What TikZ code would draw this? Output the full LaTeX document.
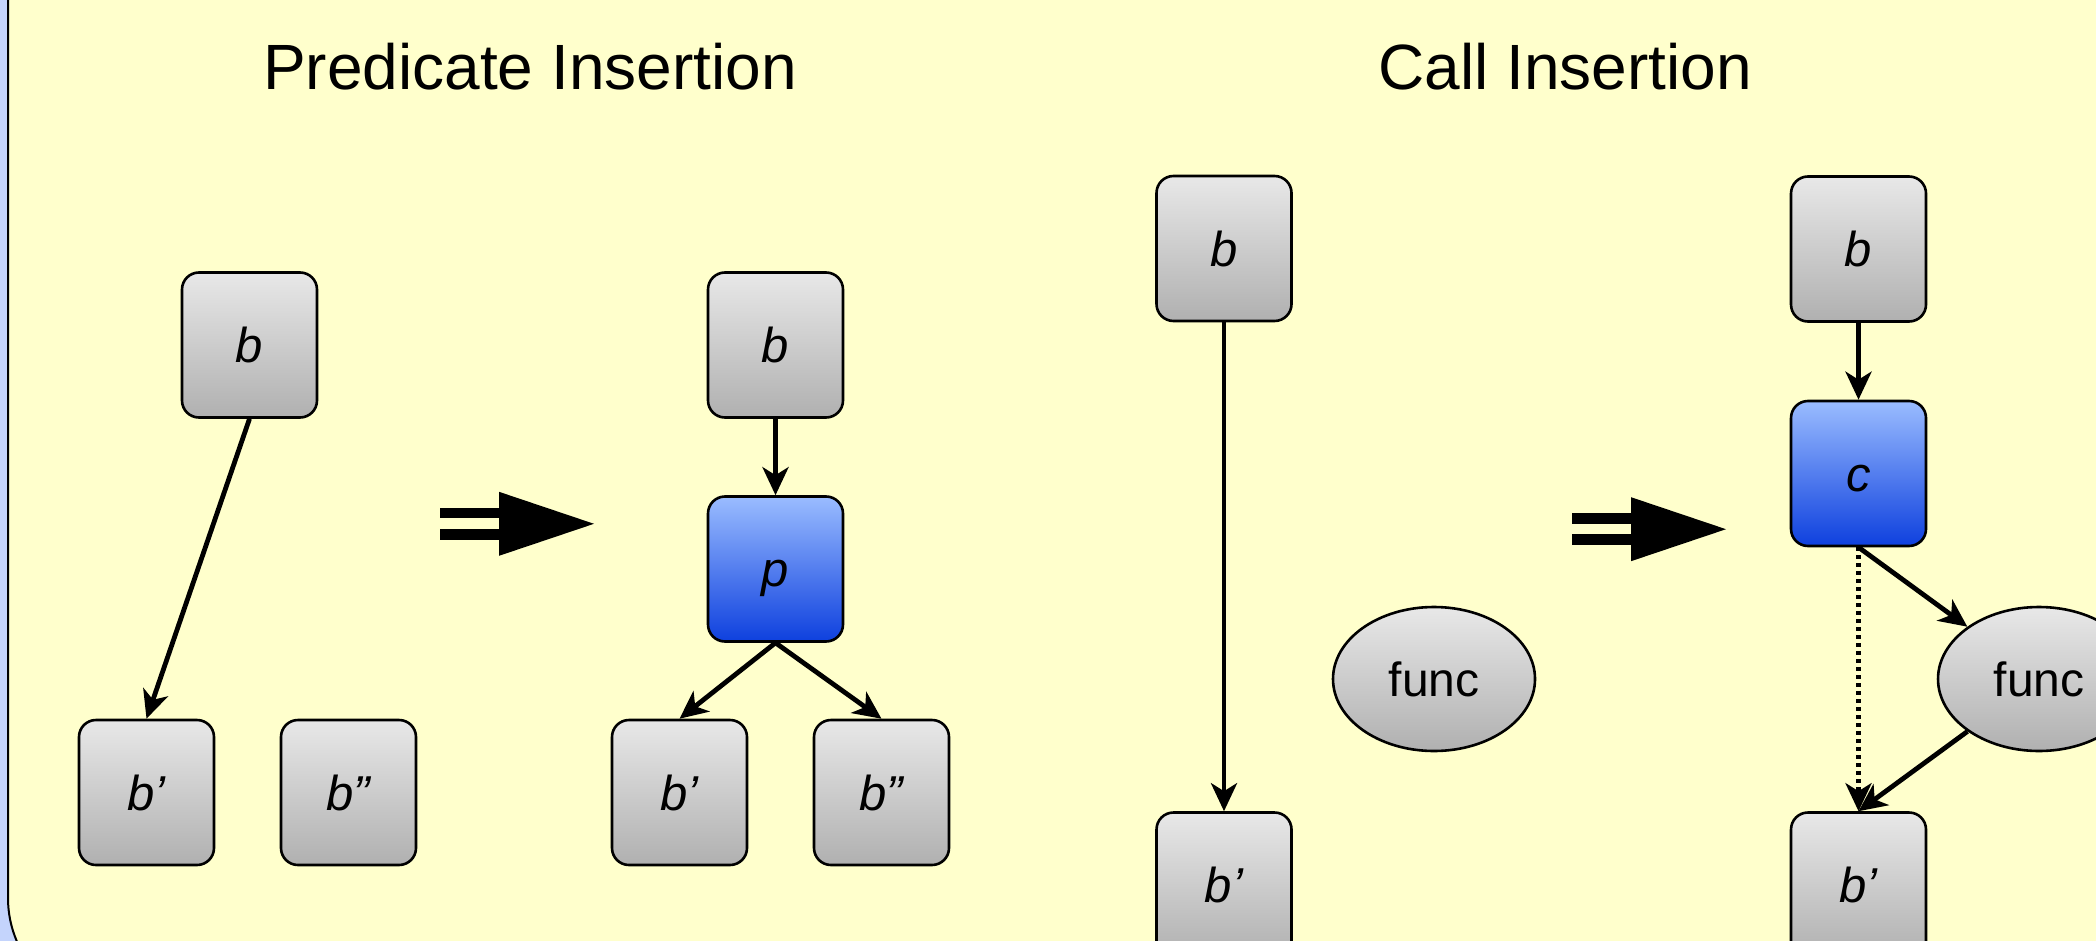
\documentclass[tikz,border=0pt]{standalone}
\usepackage{fontspec}
\setmainfont{Liberation Sans}
\usetikzlibrary{arrows.meta,shapes.geometric}

\definecolor{slideblue}{RGB}{196,212,252}
\definecolor{paneyellow}{RGB}{255,255,204}
\definecolor{greytop}{RGB}{232,232,232}
\definecolor{greybot}{RGB}{176,176,176}
\definecolor{bluetop}{RGB}{154,188,255}
\definecolor{bluebot}{RGB}{14,64,222}

\tikzset{
  block/.style={draw=black, line width=1.3pt, rounded corners=8.5pt,
    minimum width=67.5pt, minimum height=72.5pt, inner sep=0pt,
    top color=greytop, bottom color=greybot,
    text height=17.5pt, text depth=0pt,
    font=\fontsize{24.5}{28}\selectfont\itshape},
  pred/.style={block, top color=bluetop, bottom color=bluebot},
  callee/.style={ellipse, draw=black, line width=1.3pt,
    minimum width=101pt, minimum height=72pt, inner sep=0pt,
    top color=greytop, bottom color=greybot,
    font=\fontsize{24}{28}\selectfont},
  edge/.style={line width=2.4pt, -{Stealth[length=14pt,width=13pt,inset=4pt]}},
  hidden/.style={edge, dash pattern=on 2pt off 2pt},
  heading/.style={anchor=base, font=\fontsize{32}{38}\selectfont},
  implies/.pic={
    \fill (0,-16.2) rectangle (59,-5.5);
    \fill (0,5.2) rectangle (59,16.2);
    \fill (59,-32) -- (154,0) -- (59,32) -- cycle;
  }
}

\begin{document}
\begin{tikzpicture}[x=0.5pt,y=-0.5pt]
  \useasboundingbox (0,0) rectangle (2096,941);
  \clip (0,0) rectangle (2096,941);

  % slide background and the yellow pane
  \fill[slideblue] (0,0) rectangle (2096,941);
  \draw[fill=paneyellow, line width=1pt, rounded corners=55pt]
    (8,-200) rectangle (2300,1008);

  % headings
  \node[heading] (t1) at (530,90) {Predicate Insertion};
  \node[heading] (t2) at (1565,90) {Call Insertion};

  % predicate insertion: before
  \node[block] (lb)  at (249.5,345)   {b};
  \node[block] (lb1) at (146.5,792.5) {b’};
  \node[block] (lb2) at (348.5,792.5) {b”};
  \draw[edge] (lb.south) -- (lb1.north);

  \pic at (440,523.8) {implies};

  % predicate insertion: after
  \node[block] (mb)  at (775.5,345)   {b};
  \node[pred]  (mp)  at (775.5,569)   {p};
  \node[block] (mb1) at (679.5,792.5) {b’};
  \node[block] (mb2) at (881.5,792.5) {b”};
  \draw[edge] (mb.south) -- (mp.north);
  \draw[edge] (mp.south) -- (mb1.north);
  \draw[edge] (mp.south) -- (mb2.north);

  % call insertion: before
  \node[block]  (rb)  at (1224,248.5) {b};
  \node[block]  (rb1) at (1224,885)   {b’};
  \node[callee] (rf)  at (1434,679)   {func};
  \draw[edge] (rb.south) -- (rb1.north);

  \pic at (1572,529.2) {implies};

  % call insertion: after
  \node[block]  (sb)  at (1858.5,249)   {b};
  \node[pred]   (sc)  at (1858.5,473.5) {c};
  \node[block]  (sb1) at (1858.5,885)   {b’};
  \node[callee] (sf)  at (2039,679)     {func};
  \draw[edge] (sb.south) -- (sc.north);
  \draw[edge] (sc.south) -- (sf);
  \draw[edge] (sf) -- (sb1.north);
  \draw[hidden] (sc.south) -- (sb1.north);
\end{tikzpicture}
\end{document}
